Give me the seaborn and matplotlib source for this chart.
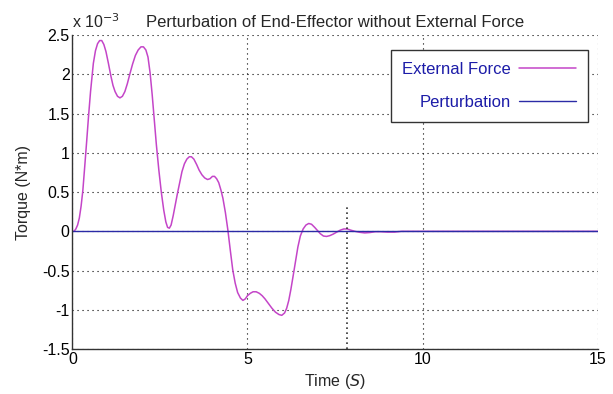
import matplotlib
matplotlib.use("Agg")
import matplotlib.pyplot as plt
import seaborn as sns
import pandas as pd

# values, torque in units of 1e-3 N*m
time = [0.0, 0.05, 0.1, 0.15, 0.2, 0.25, 0.3, 0.36, 0.41, 0.46, 0.52, 0.6, 0.66, 0.72,
        0.78, 0.84, 0.9, 0.96, 1.03, 1.1, 1.16, 1.22, 1.29, 1.36, 1.43, 1.5, 1.57, 1.64,
        1.72, 1.8, 1.88, 1.96, 2.03, 2.1, 2.16, 2.22, 2.28, 2.34, 2.4, 2.47, 2.54, 2.61,
        2.67, 2.72, 2.77, 2.82, 2.88, 2.94, 3.0, 3.07, 3.13, 3.2, 3.27, 3.34, 3.4, 3.47,
        3.55, 3.62, 3.7, 3.78, 3.86, 3.93, 4.0, 4.06, 4.12, 4.18, 4.24, 4.3, 4.37, 4.44,
        4.51, 4.58, 4.65, 4.72, 4.8, 4.87, 4.94, 5.0, 5.08, 5.16, 5.25, 5.34, 5.42, 5.5,
        5.6, 5.7, 5.8, 5.9, 5.98, 6.06, 6.12, 6.18, 6.24, 6.3, 6.37, 6.44, 6.51, 6.59,
        6.67, 6.75, 6.83, 6.92, 7.0, 7.08, 7.17, 7.26, 7.35, 7.45, 7.55, 7.65, 7.75, 7.85,
        7.95, 8.07, 8.2, 8.35, 8.5, 8.65, 8.8, 9.0, 9.2, 9.4, 15.0]
torque = [0.0, 0.0, 0.03, 0.08, 0.17, 0.32, 0.52, 0.86, 1.15, 1.45, 1.78, 2.14, 2.3, 2.39,
          2.43, 2.43, 2.38, 2.29, 2.14, 1.98, 1.86, 1.78, 1.72, 1.7, 1.72, 1.78, 1.88, 2.0,
          2.13, 2.24, 2.31, 2.35, 2.35, 2.31, 2.22, 2.02, 1.74, 1.42, 1.1, 0.78, 0.5, 0.27,
          0.12, 0.05, 0.04, 0.08, 0.2, 0.34, 0.48, 0.63, 0.76, 0.86, 0.92, 0.95, 0.95, 0.92,
          0.85, 0.78, 0.72, 0.68, 0.66, 0.67, 0.7, 0.7, 0.67, 0.62, 0.53, 0.42, 0.24, 0.02,
          -0.24, -0.49, -0.66, -0.78, -0.85, -0.88, -0.86, -0.82, -0.79, -0.77, -0.77, -0.79,
          -0.82, -0.86, -0.92, -0.98, -1.03, -1.06, -1.07, -1.04, -0.98, -0.88, -0.74, -0.58,
          -0.39, -0.2, -0.06, 0.03, 0.08, 0.1, 0.09, 0.05, 0.01, -0.03, -0.06, -0.065,
          -0.055, -0.035, -0.01, 0.015, 0.03, 0.03, 0.015, 0.0, -0.012, -0.02, -0.015,
          -0.005, -0.005, -0.01, -0.01, 0.0, 0.0]
pert_time = [0.0, 15.0]
pert_torque = [0.0, 0.0]
marker_time = [7.85, 7.85]
marker_torque = [-1.5, 0.33]

xticks = [0, 5, 10, 15]
yticks = [-1.5, -1, -0.5, 0, 0.5, 1, 1.5, 2, 2.5]
ytick_labels = ["-1.5", "-1", "-0.5", "0", "0.5", "1", "1.5", "2", "2.5"]

ext = pd.DataFrame({"t": time, "tau": torque})
per = pd.DataFrame({"t": pert_time, "tau": pert_torque})

sns.set_theme(style="white")
plt.rcParams["font.family"] = ["Liberation Sans", "DejaVu Sans"]

fig = plt.figure(figsize=(6.13, 3.94), dpi=100)
ax = fig.add_axes([0.118, 0.114, 0.857, 0.797])

sns.lineplot(data=ext, x="t", y="tau", ax=ax, color="#c445c8", linewidth=1.1,
             label="External Force")
sns.lineplot(data=per, x="t", y="tau", ax=ax, color="#2b2ba6", linewidth=1.0,
             label="Perturbation")
ax.plot(marker_time, marker_torque, color="#333333", linestyle=(0, (1, 2)), linewidth=1.2)

ax.set_xlim(0, 15)
ax.set_ylim(-1.5, 2.5)
ax.set_xticks(xticks)
ax.set_yticks(yticks)
ax.set_yticklabels(ytick_labels)
ax.tick_params(direction="in", length=4, width=0.8, labelsize=11.5, colors="#333333",
               labelcolor="black", pad=2)
ax.grid(True, color="black", linestyle=(0, (1, 3.5)), linewidth=0.8)
for side in ["top", "right"]:
    ax.spines[side].set_visible(False)
for side in ["left", "bottom"]:
    ax.spines[side].set_color("#333333")
    ax.spines[side].set_linewidth(1.0)

ax.set_xlabel("Time ($\\it{S}$)", fontsize=11.5, labelpad=4)
ax.set_ylabel("Torque (N*m)", fontsize=11.5, labelpad=8)
ax.set_title("Perturbation of End-Effector without External Force", fontsize=12, pad=6)
ax.text(0.0, 1.012, "x 10$^{-3}$", transform=ax.transAxes, fontsize=11.5, ha="left",
        va="bottom")

leg = ax.legend(loc="upper right", bbox_to_anchor=(0.981, 0.952), borderaxespad=0,
                markerfirst=False, fancybox=False, framealpha=1, edgecolor="#333333",
                fontsize=12, labelcolor="#1c1ca8", handlelength=3.4, labelspacing=1.1,
                borderpad=0.7, handletextpad=0.5)
leg.get_frame().set_linewidth(1.0)

fig.savefig("out.png", dpi=100)
